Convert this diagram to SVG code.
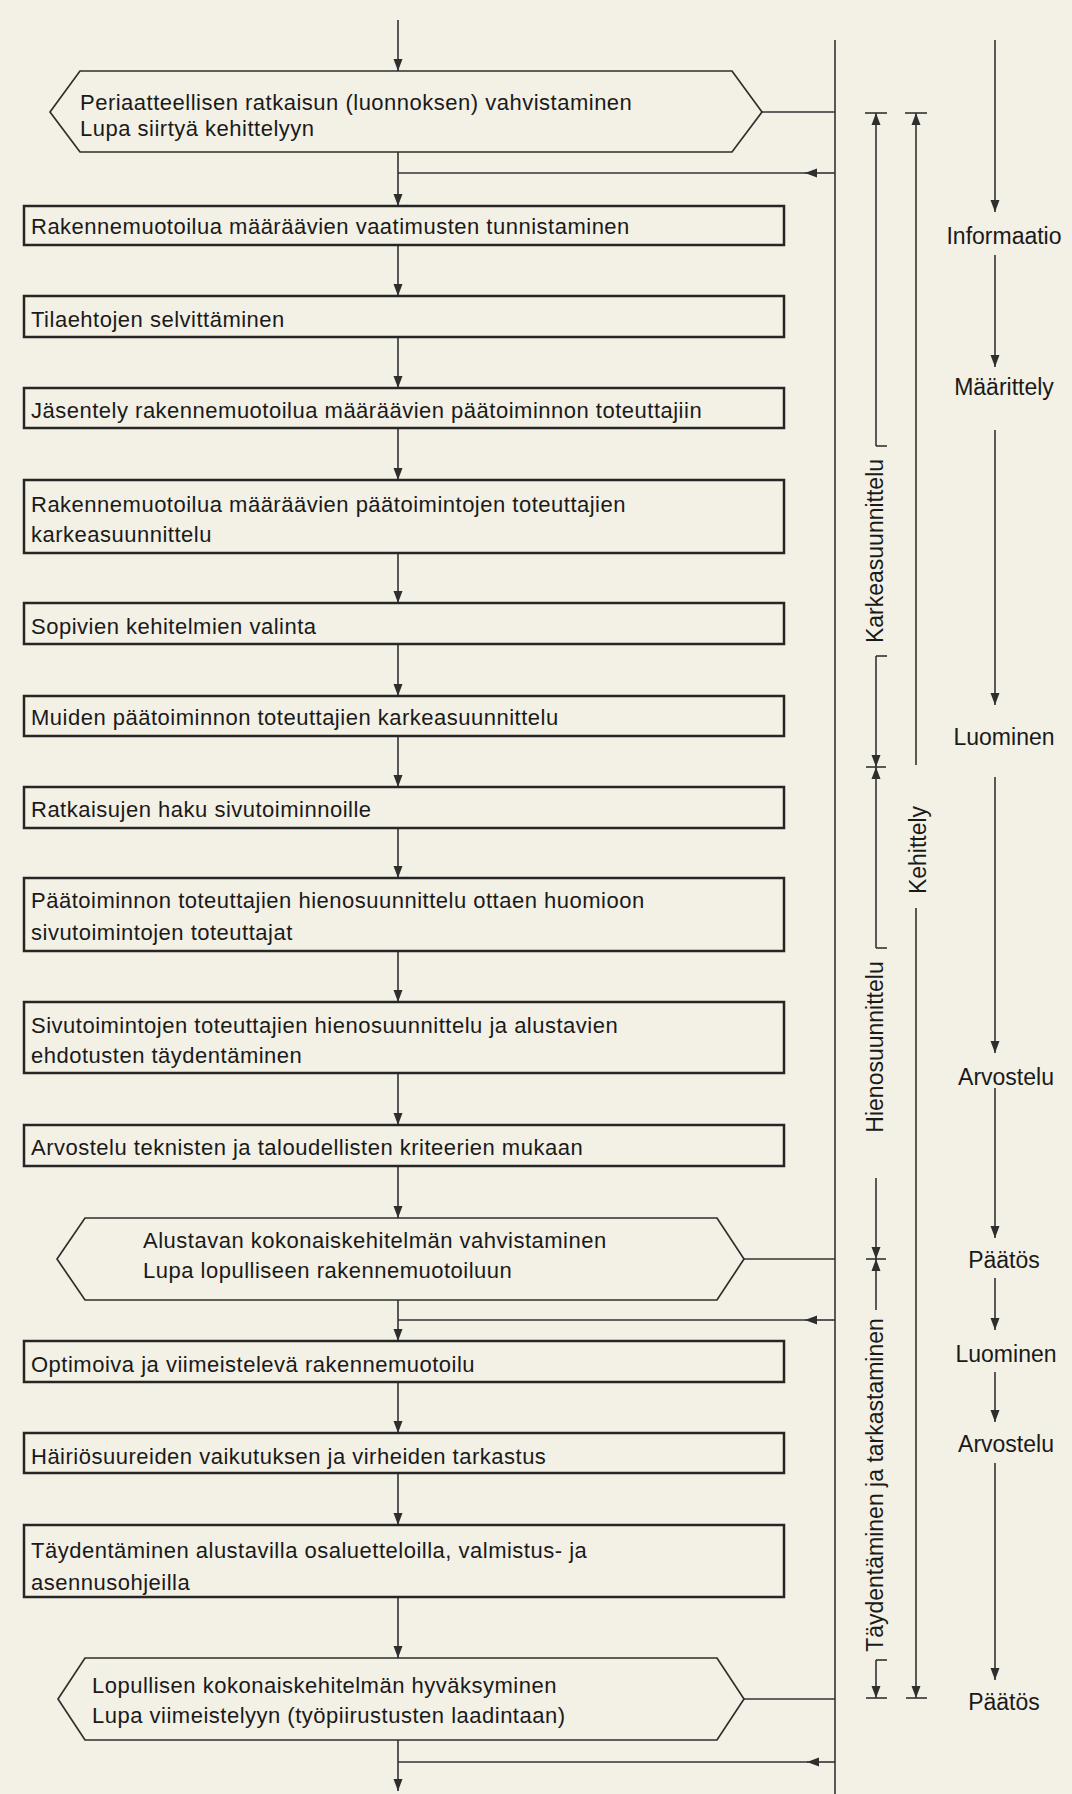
<svg xmlns="http://www.w3.org/2000/svg" width="1072" height="1794" viewBox="0 0 1072 1794">
<defs>
<marker id="arr" markerUnits="userSpaceOnUse" markerWidth="12" markerHeight="10" refX="12" refY="5" orient="auto">
<path d="M0,0.5 L12,5 L0,9.5 z" fill="#2e2e2e"/>
</marker>
<style>
.box{fill:none;stroke:#262626;stroke-width:2.5}
.hex{fill:none;stroke:#2e2e2e;stroke-width:1.7}
.ln{fill:none;stroke:#333;stroke-width:1.6}
.ar{fill:none;stroke:#333;stroke-width:1.6;marker-end:url(#arr)}
.t{font-family:"Liberation Sans",Arial,Helvetica,sans-serif;font-size:22px;letter-spacing:0.5px;fill:#1a1a1a}
.l{font-family:"Liberation Sans",Arial,Helvetica,sans-serif;font-size:23px;fill:#1a1a1a;text-anchor:middle}
</style>
</defs>
<rect x="0" y="0" width="1072" height="1794" fill="#f3f0e5"/>

<g id="connectors">
<path class="ar" d="M398,20 V71"/>
<path class="ar" d="M398,152 V206"/>
<path class="ar" d="M398,245 V296"/>
<path class="ar" d="M398,337 V388"/>
<path class="ar" d="M398,428 V480"/>
<path class="ar" d="M398,553 V603"/>
<path class="ar" d="M398,644 V696"/>
<path class="ar" d="M398,736 V787"/>
<path class="ar" d="M398,828 V878"/>
<path class="ar" d="M398,951 V1002"/>
<path class="ar" d="M398,1073 V1125"/>
<path class="ar" d="M398,1166 V1218"/>
<path class="ar" d="M398,1300 V1341"/>
<path class="ar" d="M398,1382 V1433"/>
<path class="ar" d="M398,1473 V1525"/>
<path class="ar" d="M398,1597 V1658"/>
<path class="ar" d="M398,1740 V1791"/>
<path class="ln" d="M762,112 H835"/>
<path class="ln" d="M744,1259 H835"/>
<path class="ln" d="M744,1699 H835"/>
<path class="ln" d="M835,40 V1794"/>
<path class="ar" d="M835,173 H805"/>
<path class="ln" d="M806,173 H398"/>
<path class="ar" d="M835,1320 H805"/>
<path class="ln" d="M806,1320 H398"/>
<path class="ar" d="M835,1762 H807"/>
<path class="ln" d="M808,1762 H398"/>
<path class="ar" d="M876,446 V113"/>
<path class="ln" d="M865,113 H887"/>
<path class="ln" d="M876,446 H887"/>
<path class="ln" d="M876,656 H887"/>
<path class="ar" d="M876,656 V767"/>
<path class="ar" d="M876,948 V767"/>
<path class="ln" d="M866,767 H886"/>
<path class="ln" d="M876,948 H887"/>
<path class="ar" d="M876,1178 V1259"/>
<path class="ar" d="M876,1310 V1259"/>
<path class="ln" d="M866,1259 H886"/>
<path class="ln" d="M876,1660 H887"/>
<path class="ar" d="M876,1660 V1698"/>
<path class="ln" d="M866,1698 H887"/>
<path class="ar" d="M916,765 V113"/>
<path class="ln" d="M905,113 H927"/>
<path class="ar" d="M916,908 V1698"/>
<path class="ln" d="M906,1698 H927"/>
<path class="ar" d="M995,40 V212"/>
<path class="ar" d="M995,255 V367"/>
<path class="ar" d="M995,430 V705"/>
<path class="ar" d="M995,777 V1053"/>
<path class="ar" d="M995,1088 V1238"/>
<path class="ar" d="M995,1278 V1330"/>
<path class="ar" d="M995,1372 V1422"/>
<path class="ar" d="M995,1463 V1680"/>
</g>

<g id="n1">
<polygon class="hex" points="80,71 732,71 762,112 732,152 80,152 50,112"/>
<text class="t" x="80" y="110">Periaatteellisen ratkaisun (luonnoksen) vahvistaminen</text>
<text class="t" x="80" y="136">Lupa siirtyä kehittelyyn</text>
</g>
<g id="n2">
<rect class="box" x="24" y="206" width="760" height="39"/>
<text class="t" x="31" y="234">Rakennemuotoilua määräävien vaatimusten tunnistaminen</text>
</g>
<g id="n3">
<rect class="box" x="24" y="296" width="760" height="41"/>
<text class="t" x="31" y="327">Tilaehtojen selvittäminen</text>
</g>
<g id="n4">
<rect class="box" x="24" y="388" width="760" height="40"/>
<text class="t" x="31" y="418">Jäsentely rakennemuotoilua määräävien päätoiminnon toteuttajiin</text>
</g>
<g id="n5">
<rect class="box" x="24" y="480" width="760" height="73"/>
<text class="t" x="31" y="512">Rakennemuotoilua määräävien päätoimintojen toteuttajien</text>
<text class="t" x="31" y="542">karkeasuunnittelu</text>
</g>
<g id="n6">
<rect class="box" x="24" y="603" width="760" height="41"/>
<text class="t" x="31" y="634">Sopivien kehitelmien valinta</text>
</g>
<g id="n7">
<rect class="box" x="24" y="696" width="760" height="40"/>
<text class="t" x="31" y="725">Muiden päätoiminnon toteuttajien karkeasuunnittelu</text>
</g>
<g id="n8">
<rect class="box" x="24" y="787" width="760" height="41"/>
<text class="t" x="31" y="817">Ratkaisujen haku sivutoiminnoille</text>
</g>
<g id="n9">
<rect class="box" x="24" y="878" width="760" height="73"/>
<text class="t" x="31" y="908">Päätoiminnon toteuttajien hienosuunnittelu ottaen huomioon</text>
<text class="t" x="31" y="940">sivutoimintojen toteuttajat</text>
</g>
<g id="n10">
<rect class="box" x="24" y="1002" width="760" height="71"/>
<text class="t" x="31" y="1033">Sivutoimintojen toteuttajien hienosuunnittelu ja alustavien</text>
<text class="t" x="31" y="1063">ehdotusten täydentäminen</text>
</g>
<g id="n11">
<rect class="box" x="24" y="1125" width="760" height="41"/>
<text class="t" x="31" y="1155">Arvostelu teknisten ja taloudellisten kriteerien mukaan</text>
</g>
<g id="n12">
<polygon class="hex" points="85,1218 717,1218 744,1259 717,1300 85,1300 57,1259"/>
<text class="t" x="143" y="1248">Alustavan kokonaiskehitelmän vahvistaminen</text>
<text class="t" x="143" y="1278">Lupa lopulliseen rakennemuotoiluun</text>
</g>
<g id="n13">
<rect class="box" x="24" y="1341" width="760" height="41"/>
<text class="t" x="31" y="1372">Optimoiva ja viimeistelevä rakennemuotoilu</text>
</g>
<g id="n14">
<rect class="box" x="24" y="1433" width="760" height="40"/>
<text class="t" x="31" y="1464">Häiriösuureiden vaikutuksen ja virheiden tarkastus</text>
</g>
<g id="n15">
<rect class="box" x="24" y="1525" width="760" height="72"/>
<text class="t" x="31" y="1558">Täydentäminen alustavilla osaluetteloilla, valmistus- ja</text>
<text class="t" x="31" y="1590">asennusohjeilla</text>
</g>
<g id="n16">
<polygon class="hex" points="85,1658 717,1658 744,1699 717,1740 85,1740 58,1699"/>
<text class="t" x="92" y="1693">Lopullisen kokonaiskehitelmän hyväksyminen</text>
<text class="t" x="92" y="1723">Lupa viimeistelyyn (työpiirustusten laadintaan)</text>
</g>

<g id="phase-labels">
<text class="l" transform="translate(883,551) rotate(-90)">Karkeasuunnittelu</text>
<text class="l" transform="translate(926,850) rotate(-90)">Kehittely</text>
<text class="l" transform="translate(883,1047) rotate(-90)">Hienosuunnittelu</text>
<text class="l" transform="translate(883,1485) rotate(-90)">Täydentäminen ja tarkastaminen</text>
</g>

<g id="info-labels">
<text class="l" x="1004" y="244">Informaatio</text>
<text class="l" x="1004" y="395">Määrittely</text>
<text class="l" x="1004" y="745">Luominen</text>
<text class="l" x="1006" y="1085">Arvostelu</text>
<text class="l" x="1004" y="1268">Päätös</text>
<text class="l" x="1006" y="1362">Luominen</text>
<text class="l" x="1006" y="1452">Arvostelu</text>
<text class="l" x="1004" y="1710">Päätös</text>
</g>
</svg>
